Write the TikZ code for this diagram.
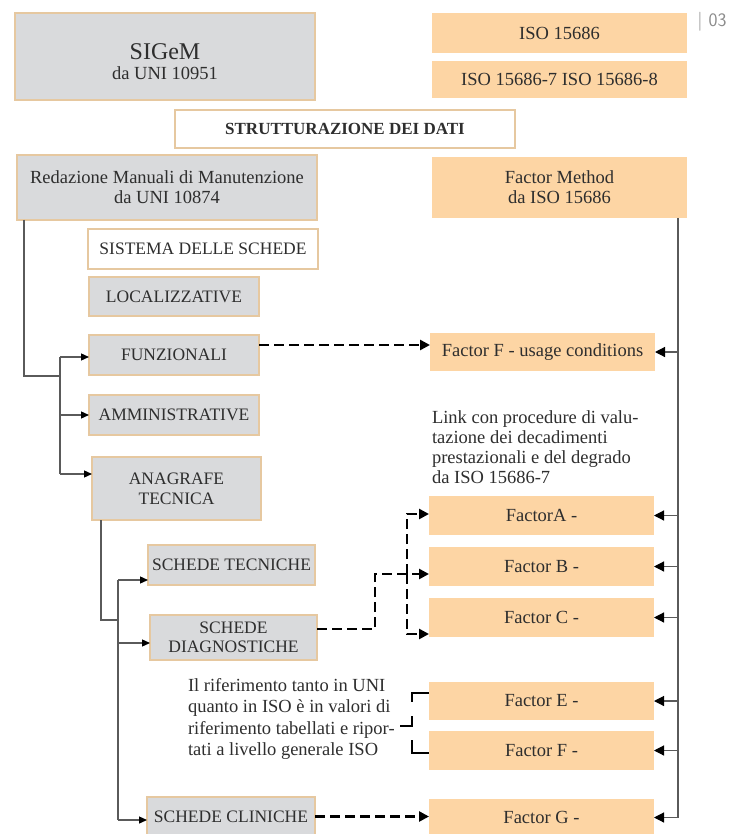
\documentclass[tikz,border=0pt]{standalone}
\usepackage{fontspec}
\setmainfont{Liberation Serif}
\usetikzlibrary{arrows.meta,calc}
\definecolor{boxgray}{HTML}{D9DADC}
\definecolor{boxtan}{HTML}{E6C8A0}
\definecolor{peach}{HTML}{FDD5A4}
\definecolor{txt}{HTML}{2E2E2E}
\definecolor{treeline}{HTML}{5A5A5A}
\begin{document}
\begin{tikzpicture}[x=1pt,y=-1pt,line join=miter,
 base/.style={rectangle,inner sep=0pt,outer sep=0pt,align=center,text=txt,font=\fontsize{18.5}{20}\selectfont},
 capsf/.style={font=\fontsize{17.5}{20}\selectfont},
 gbox/.style={base,fill=boxgray,draw=boxtan,line width=1.3pt},
 wbox/.style={base,fill=white,draw=boxtan,line width=1.3pt},
 obox/.style={base,fill=peach},
 sz/.style 2 args={minimum width=#1pt,minimum height=#2pt},
 tree/.style={draw=treeline,line width=1.3pt},
 treearr/.style={tree,-{Triangle[length=8pt,width=7pt,color=black]}},
 rarr/.style={draw=treeline,line width=1.2pt,-{Triangle[length=10pt,width=10pt,color=black]}},
 dasharr/.style={draw=black,line width=2.8pt,dash pattern=on 10pt off 5pt,-{Triangle[length=10pt,width=10pt]}},
 dashln/.style={draw=black,line width=2.8pt,dash pattern=on 10pt off 5pt},
 brk/.style={draw=black,line width=2.8pt},
 note/.style={inner sep=0pt,outer sep=0pt,align=left,text=txt,anchor=north west}
]
\useasboundingbox (0,0) rectangle (729,834);
\fill[white] (0,0) rectangle (729,834);

% left column boxes
\node[gbox,sz={300}{87},text height=47pt] (sigem) at (165,56.5) {{\fontsize{24}{27}\selectfont SIGeM}\\da UNI 10951};
\node[wbox,sz={340}{38},font=\fontsize{17}{19}\selectfont\bfseries] (strut) at (345,129) {STRUTTURAZIONE DEI DATI};
\node[gbox,sz={300}{65}] (redaz) at (167,187.5) {Redazione Manuali di Manutenzione\\da UNI 10874};
\node[wbox,capsf,sz={230}{40}] (sist) at (203,249) {SISTEMA DELLE SCHEDE};
\node[gbox,capsf,sz={170}{39}] (loc) at (174,296.5) {LOCALIZZATIVE};
\node[gbox,capsf,sz={170}{40}] (funz) at (174,355) {FUNZIONALI};
\node[gbox,capsf,sz={170}{40}] (amm) at (174,415) {AMMINISTRATIVE};
\node[gbox,capsf,sz={169}{63}] (anag) at (176.5,488.5) {ANAGRAFE\\TECNICA};
\node[gbox,capsf,sz={167}{40}] (stec) at (231.5,565) {SCHEDE TECNICHE};
\node[gbox,sz={167}{45},font=\fontsize{17.5}{18.5}\selectfont] (sdiag) at (233.5,637.5) {SCHEDE\\DIAGNOSTICHE};
\node[gbox,capsf,sz={168}{39}] (sclin) at (231,816.5) {SCHEDE CLINICHE};

% right column boxes
\node[obox,sz={255}{40}] (iso1) at (559.5,33) {ISO 15686};
\node[obox,sz={255}{37}] (iso2) at (559.5,79.5) {ISO 15686-7 ISO 15686-8};
\node[obox,sz={255}{61}] (fmeth) at (559.5,187.5) {Factor Method\\da ISO 15686};
\node[obox,sz={225}{38}] (ffu) at (542.5,352) {Factor F - usage conditions};
\node[obox,sz={225}{39}] (fA) at (541.5,515.5) {FactorA -};
\node[obox,sz={225}{39}] (fB) at (541.5,566.5) {Factor B -};
\node[obox,sz={225}{39}] (fC) at (541.5,617.5) {Factor C -};
\node[obox,sz={225}{38}] (fE) at (541.5,701) {Factor E -};
\node[obox,sz={225}{39}] (fF) at (541.5,750.5) {Factor F -};
\node[obox,sz={225}{37}] (fG) at (541.5,817.5) {Factor G -};

% texts
\node[text=black!45,font=\sffamily\fontsize{19}{19}\selectfont,inner sep=0pt] (pg) at (712,22) {| 03};
\node[note,font=\fontsize{18.5}{20}\selectfont] (link) at (432,411) {Link con procedure di valu-\\tazione dei decadimenti\\prestazionali e del degrado\\da ISO 15686-7};
\node[note,font=\fontsize{18.5}{21.5}\selectfont] (rif) at (188,678) {Il riferimento tanto in UNI\\quanto in ISO è in valori di\\riferimento tabellati e ripor-\\tati a livello generale ISO};

% left tree
\coordinate (j1) at (60,376);
\draw[tree] ([xshift=7pt]redaz.south west) |- (j1);
\coordinate (bt) at (60,357);
\coordinate (bb) at (60,474);
\draw[tree] (bt) -- (bb);
\draw[treearr] (bt) -- (bt -| funz.west);
\draw[treearr] (bt |- amm.west) -- (amm.west);
\draw[treearr] (bb) -- (bb -| anag.west);

\coordinate (j2) at (118,620);
\draw[tree] ([xshift=9pt]anag.south west) |- (j2);
\coordinate (ct) at (118,580);
\coordinate (cm) at (118,643);
\coordinate (cb) at (118,820);
\draw[tree] (ct) -- (cb);
\draw[treearr] (ct) -- (ct -| stec.west);
\draw[treearr] (cm) -- (cm -| sdiag.west);
\draw[treearr] (cb) -- (cb -| sclin.west);

% right spine
\coordinate (rv) at (678,0);
\draw[tree] (fmeth.south -| rv) -- (fG.east -| rv);
\foreach \n in {ffu,fA,fB,fC,fE,fF,fG} \draw[rarr] (\n.east -| rv) -- (\n.east);

% dashed links
\draw[dasharr] ([yshift=10pt]funz.east) -- ([yshift=10pt]funz.east -| ffu.west);
\coordinate (d2) at (375,574);
\draw[dasharr] ([yshift=8.5pt]sdiag.east) -| (d2) -- (d2 -| fB.west);
\coordinate (vA) at (407,514);
\coordinate (vC) at (407,634);
\draw[dasharr] (vA |- d2) -- (vA) -- (vA -| fA.west);
\draw[dasharr] (vA |- d2) -- (vC) -- (vC -| fC.west);
\draw[dasharr] (sclin.east) -- (sclin.east -| fG.west);

% bracket E/F
\coordinate (bE) at (412,693);
\coordinate (bM) at (412,726);
\coordinate (bF) at (412,753);
\draw[brk] (fE.west |- bE) -- (bE) -- ++(0,9);
\draw[brk] ([yshift=10pt]bM) -- (bM) -- ++(-12,0);
\draw[brk] ([yshift=13pt]bF) -- (bF) -- (bF -| fF.west);
\end{tikzpicture}
\end{document}
